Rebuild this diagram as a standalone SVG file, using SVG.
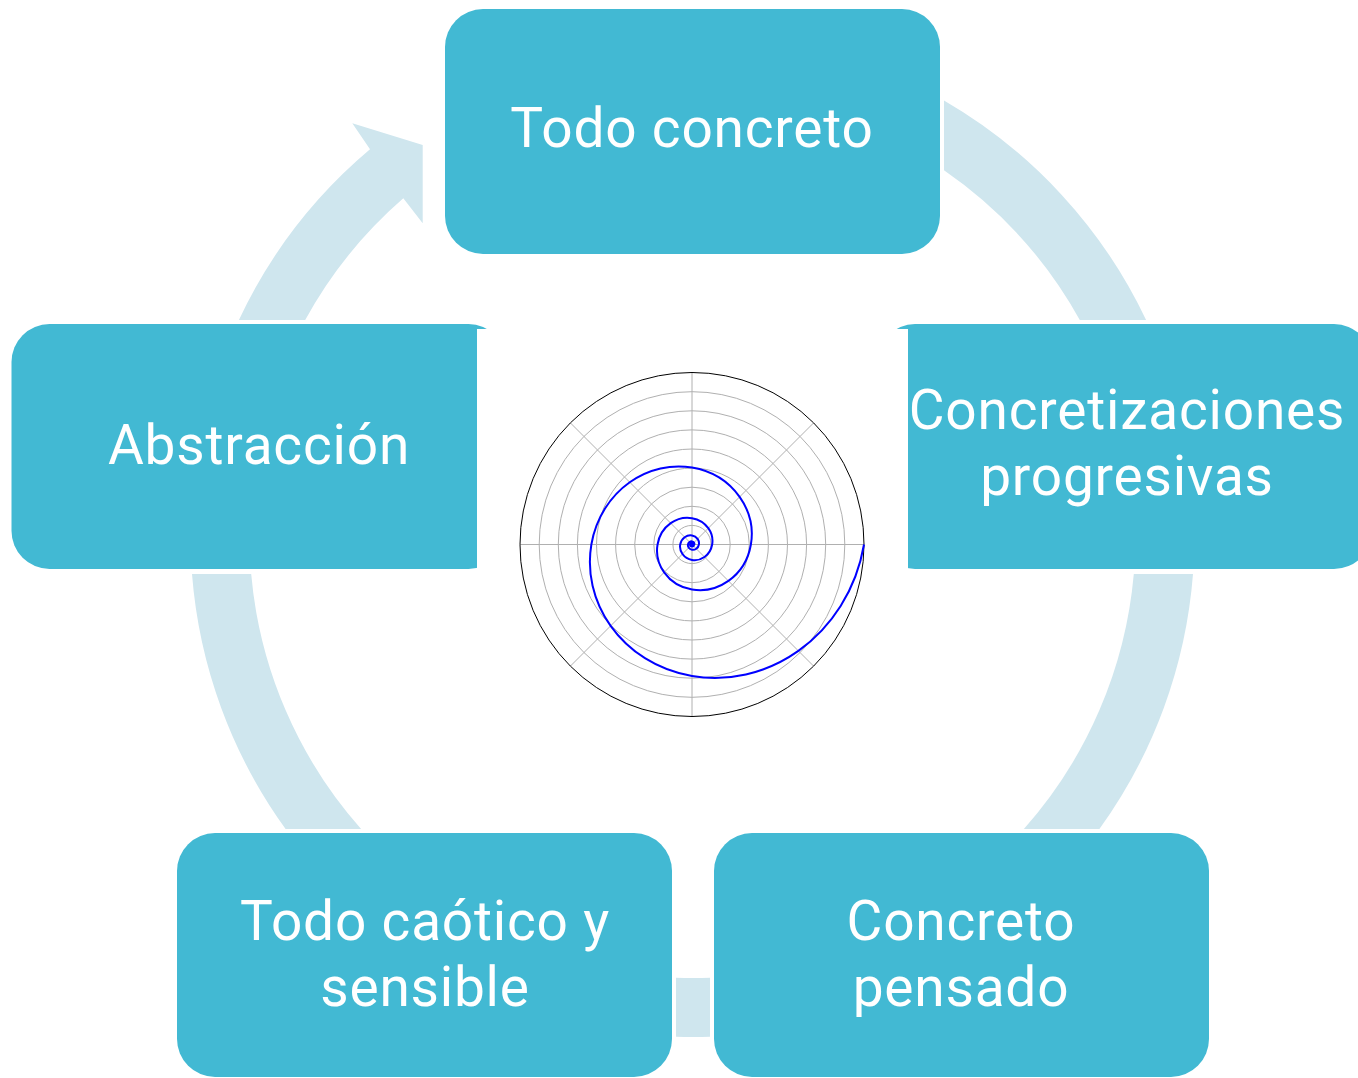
<svg xmlns="http://www.w3.org/2000/svg" width="1358" height="1078" viewBox="0 0 1358 1078">
<style>
.node{fill:#42B9D3;}
.band{fill:#CFE6EE;}
.label{fill:#FFFFFF;font-family:Roboto,"Liberation Sans",sans-serif;font-size:55px;letter-spacing:0.8px;text-anchor:middle;}
.grid{fill:none;stroke:#B0B0B0;stroke-width:1;}
</style>
<rect x="0" y="0" width="1358" height="1078" fill="#FFFFFF"/>
<g id="connectors">
<path class="band" d="M944,100.5 A502,502 0 0 1 1146.1,320 L1079.8,320 A443,443 0 0 0 944,170.3 Z"/>
<path class="band" d="M1193,574 A502,502 0 0 1 1099.4,829 L1023.9,829 A443,443 0 0 0 1133.8,574 Z"/>
<path class="band" d="M710,1036.7 A502,502 0 0 1 676,1036.7 L676,977.7 A443,443 0 0 0 710,977.7 Z"/>
<path class="band" d="M285.6,829 A502,502 0 0 1 192,574 L251.2,574 A443,443 0 0 0 361.1,829 Z"/>
<path class="band" d="M238.9,320 A502,502 0 0 1 370,149.3 L352.3,123.3 L422.7,145 L422.7,223.3 L403.3,198.3 A443,443 0 0 0 305.2,320 Z"/>
</g>
<g id="node-todo-concreto">
<rect class="node" x="445" y="9" width="495" height="245" rx="38" ry="38"/>
<text class="label" x="692" y="147">Todo concreto</text>
</g>
<g id="node-concretizaciones">
<rect class="node" x="877" y="324" width="495" height="245" rx="38" ry="38"/>
<text class="label" x="1127" y="429">Concretizaciones<tspan x="1127" dy="66">progresivas</tspan></text>
</g>
<g id="node-concreto-pensado">
<rect class="node" x="714" y="833" width="495" height="244" rx="38" ry="38"/>
<text class="label" x="961" y="940">Concreto<tspan x="961" dy="66">pensado</tspan></text>
</g>
<g id="node-todo-caotico">
<rect class="node" x="177" y="833" width="495" height="244" rx="38" ry="38"/>
<text class="label" x="425" y="940">Todo caótico y<tspan x="425" dy="66">sensible</tspan></text>
</g>
<g id="node-abstraccion">
<rect class="node" x="11.5" y="324" width="495" height="245" rx="38" ry="38"/>
<text class="label" x="259" y="464">Abstracción</text>
</g>
<g id="polar-plot">
<rect x="477" y="329" width="431" height="431" fill="#FFFFFF"/>
<g class="grid">
<circle cx="692" cy="544.5" r="19.1"/>
<circle cx="692" cy="544.5" r="38.2"/>
<circle cx="692" cy="544.5" r="57.3"/>
<circle cx="692" cy="544.5" r="76.4"/>
<circle cx="692" cy="544.5" r="95.5"/>
<circle cx="692" cy="544.5" r="114.6"/>
<circle cx="692" cy="544.5" r="133.7"/>
<circle cx="692" cy="544.5" r="152.8"/>
<line x1="520" y1="544.5" x2="864" y2="544.5"/>
<line x1="692" y1="372.5" x2="692" y2="716.5"/>
<line x1="570.4" y1="422.9" x2="813.6" y2="666.1"/>
<line x1="570.4" y1="666.1" x2="813.6" y2="422.9"/>
</g>
<circle cx="692" cy="544.5" r="172" fill="none" stroke="#000000" stroke-width="1"/>
<path fill="none" stroke="#0000FF" stroke-width="2" d="M864,544.5 C856.22,590.11 831.39,627.47 798.37,650.87 C765.35,674.27 726.89,682.02 692,676.07 C657.11,670.12 628.53,651.13 610.63,625.87 C592.73,600.61 586.81,571.19 591.36,544.5 C595.91,517.81 610.44,495.95 629.76,482.26 C649.08,468.57 671.58,464.04 692,467.52 C712.42,471 729.14,482.11 739.61,496.89 C750.08,511.67 753.55,528.88 750.89,544.5 C748.23,560.12 739.73,572.91 728.42,580.92 C717.11,588.93 703.94,591.58 692,589.54 C680.06,587.5 670.28,581 664.15,572.35 C658.02,563.7 655.99,553.64 657.55,544.5 C659.11,535.36 664.08,527.88 670.69,523.19 C677.3,518.5 685.01,516.96 692,518.15 C698.99,519.34 704.72,523.14 708.3,528.2 C711.88,533.26 713.07,539.15 712.16,544.5 C711.25,549.85 708.34,554.23 704.47,556.97 C700.6,559.71 696.09,560.62 692,559.92 C687.91,559.22 684.56,557 682.46,554.04 C680.36,551.08 679.67,547.63 680.2,544.5 C680.73,541.37 682.43,538.81 684.7,537.2 C686.97,535.59 689.61,535.07 692,535.48 C694.39,535.89 696.35,537.19 697.58,538.92 C698.81,540.65 699.21,542.67 698.9,544.5 C698.59,546.33 697.59,547.83 696.27,548.77 C694.95,549.71 693.4,550.02 692,549.78 C690.6,549.54 689.45,548.79 688.73,547.77 C688.01,546.75 687.78,545.57 687.96,544.5 C688.14,543.43 688.72,542.55 689.5,542 C690.28,541.45 691.18,541.27 692,541.41 C692.82,541.55 693.49,541.99 693.91,542.59 C694.33,543.19 694.47,543.87 694.36,544.5"/>
<circle cx="692" cy="544.5" r="3" fill="#0000FF"/>
</g>
</svg>
